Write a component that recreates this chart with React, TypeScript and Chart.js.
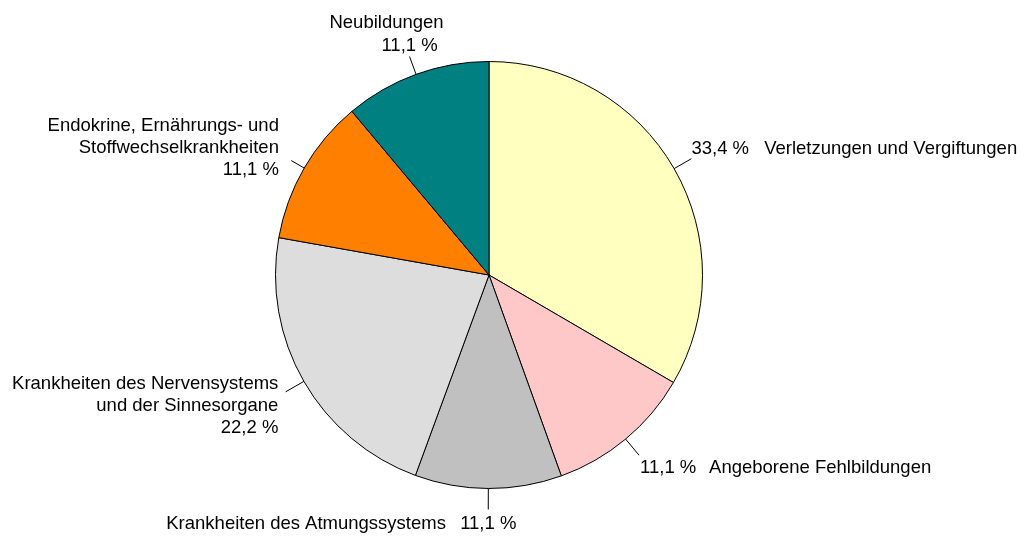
import React, { useEffect, useRef } from "react";
import { Chart, registerables } from "chart.js";

Chart.register(...registerables);

const categories: string[][] = [
  ["Verletzungen und Vergiftungen"],
  ["Angeborene Fehlbildungen"],
  ["Krankheiten des Atmungssystems"],
  ["Krankheiten des Nervensystems", "und der Sinnesorgane"],
  ["Endokrine, Ernährungs- und", "Stoffwechselkrankheiten"],
  ["Neubildungen"],
];
const values: number[] = [33.4, 11.1, 11.1, 22.2, 11.1, 11.1];
const colors: string[] = ["#FFFFC0", "#FFC8C8", "#C0C0C0", "#DDDDDD", "#FF8000", "#008080"];

const fmtPct = (v: number) => v.toFixed(1).replace(".", ",") + " %";

type Piece = { text: string; dx: number; dy: number; align: CanvasTextAlign };

// label layout relative to leader line end
function buildPieces(i: number): { len: number; pieces: Piece[] } {
  const pct = fmtPct(values[i]);
  const name = categories[i];
  switch (i) {
    case 0:
      return { len: 20, pieces: [
        { text: pct, dx: 0, dy: -4.5, align: "left" },
        { text: name[0], dx: 72.7, dy: -4.5, align: "left" },
      ] };
    case 1:
      return { len: 21, pieces: [
        { text: pct, dx: 1, dy: 18, align: "left" },
        { text: name[0], dx: 70, dy: 18, align: "left" },
      ] };
    case 2:
      return { len: 21, pieces: [
        { text: pct, dx: 0, dy: 20, align: "center" },
        { text: name[0], dx: -42.3, dy: 20, align: "right" },
      ] };
    case 3:
      return { len: 21, pieces: [
        { text: name[0], dx: -7.3, dy: -2.7, align: "right" },
        { text: name[1], dx: -7.3, dy: 19.6, align: "right" },
        { text: pct, dx: -7.3, dy: 41.3, align: "right" },
      ] };
    case 4:
      return { len: 15, pieces: [
        { text: name[0], dx: -12.3, dy: -30, align: "right" },
        { text: name[1], dx: -12.3, dy: -7.7, align: "right" },
        { text: pct, dx: -12.3, dy: 14, align: "right" },
      ] };
    default:
      return { len: 19, pieces: [
        { text: name[0], dx: -23, dy: -28, align: "center" },
        { text: pct, dx: 0, dy: -5.7, align: "center" },
      ] };
  }
}

const labelPlugin = {
  id: "pieLabels",
  afterDatasetsDraw(chart: any) {
    const ctx: CanvasRenderingContext2D = chart.ctx;
    const meta = chart.getDatasetMeta(0);
    ctx.save();
    ctx.font = '18.5px "Liberation Sans", Arial, sans-serif';
    ctx.fillStyle = "#000";
    ctx.strokeStyle = "#000";
    ctx.lineWidth = 1;
    ctx.textBaseline = "alphabetic";
    meta.data.forEach((arc: any, i: number) => {
      const p = arc.getProps(["x", "y", "startAngle", "endAngle", "outerRadius"], true);
      const mid = (p.startAngle + p.endAngle) / 2;
      const c = Math.cos(mid), s = Math.sin(mid);
      const cfg = buildPieces(i);
      const x0 = p.x + c * p.outerRadius, y0 = p.y + s * p.outerRadius;
      const x1 = p.x + c * (p.outerRadius + cfg.len), y1 = p.y + s * (p.outerRadius + cfg.len);
      ctx.beginPath();
      ctx.moveTo(x0, y0);
      ctx.lineTo(x1, y1);
      ctx.stroke();
      cfg.pieces.forEach((pc) => {
        ctx.textAlign = pc.align;
        ctx.fillText(pc.text, x1 + pc.dx, y1 + pc.dy);
      });
    });
    ctx.restore();
  },
};

export default function App() {
  const ref = useRef<HTMLCanvasElement>(null);
  useEffect(() => {
    if (!ref.current) return;
    const chart = new Chart(ref.current, {
      type: "pie",
      data: {
        labels: categories.map((c) => c.join(" ")),
        datasets: [{
          data: values,
          backgroundColor: colors,
          borderColor: "#000",
          borderWidth: 1,
        }],
      },
      options: {
        animation: false,
        responsive: false,
        maintainAspectRatio: false,
        layout: { padding: { left: 275, right: 324, top: 61, bottom: 49 } },
        plugins: { legend: { display: false }, tooltip: { enabled: false } },
      },
      plugins: [labelPlugin],
    });
    return () => chart.destroy();
  }, []);
  return (
    <div style={{ position: "absolute", left: 0, top: 0, width: 1027, height: 538, background: "#fff" }}>
      <canvas ref={ref} width={1027} height={538} />
    </div>
  );
}
